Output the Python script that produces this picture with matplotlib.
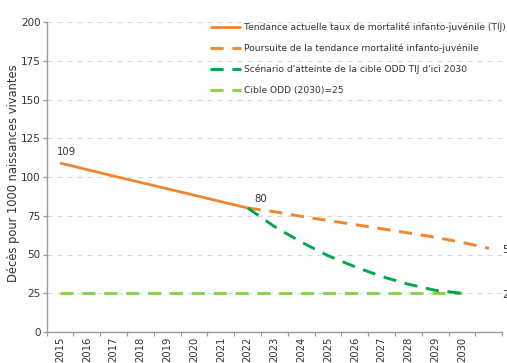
import matplotlib
matplotlib.use("Agg")
import matplotlib.pyplot as plt
import numpy as np

plt.rcParams['font.family'] = ['DejaVu Sans']

# Under-five mortality (deaths per 1000 live births)
years_trend = [2015, 2016, 2017, 2018, 2019, 2020, 2021, 2022]
trend = [109, 104.8, 100.6, 96.5, 92.4, 88.3, 84.1, 80]

years_proj = [2022, 2023, 2024, 2025, 2026, 2027, 2028, 2029, 2030, 2031]
projection = [80, 77.6, 74.6, 71.9, 69.3, 66.6, 63.9, 61.1, 57.8, 54]

years_sdg = [2022, 2023, 2024, 2025, 2026, 2027, 2028, 2029, 2030]
sdg_scenario = [80, 68, 58, 49.2, 42.1, 35.8, 30.8, 26.9, 25]

years_target = list(range(2015, 2031))
target_value = 25
target = [target_value] * len(years_target)

tick_years = list(range(2015, 2031))
y_ticks = [0, 25, 50, 75, 100, 125, 150, 175, 200]

series_labels = [
    "Tendance actuelle taux de mortalité infanto-juvénile (TIJ)",
    "Poursuite de la tendance mortalité infanto-juvénile",
    "Scénario d'atteinte de la cible ODD TIJ d'ici 2030",
    "Cible ODD (2030)=25",
]
y_title = "Décès pour 1000 naissances vivantes"

ORANGE = "#F28530"
GREEN = "#00A651"
LIGHT_GREEN = "#8DD14B"
TEXT = "#333333"
AXIS = "#9a9a9a"

W, H = 507, 363
fig = plt.figure(figsize=(W / 100, H / 100), dpi=100)
fig.patch.set_facecolor("white")
left, right, bottom, top = 46.7, 502.3, 332, 22
ax = fig.add_axes([left / W, 1 - bottom / H, (right - left) / W, (bottom - top) / H])

dash = (0, (4.5, 3))
ax.plot(years_target, target, color=LIGHT_GREEN, lw=2.1, linestyle=dash,
        label=series_labels[3], zorder=3)
ax.plot(years_proj, projection, color=ORANGE, lw=2.1, linestyle=dash,
        label=series_labels[1], zorder=3)
ax.plot(years_trend, trend, color=ORANGE, lw=2.0, solid_capstyle="butt",
        label=series_labels[0], zorder=4)
ax.plot(years_sdg, sdg_scenario, color=GREEN, lw=2.1, linestyle=dash,
        label=series_labels[2], zorder=5)

# value labels
ax.annotate(f"{trend[0]:g}", (years_trend[0], trend[0]), xytext=(-2.5, 4.0),
            textcoords="offset points", ha="left", va="bottom", fontsize=7.3, color=TEXT)
ax.annotate(f"{trend[-1]:g}", (years_trend[-1], trend[-1]), xytext=(4.5, 3.0),
            textcoords="offset points", ha="left", va="bottom", fontsize=7.3, color=TEXT)
ax.annotate(f"{projection[-1]:g}", (years_proj[-1], projection[-1]), xytext=(9.5, -1.5),
            textcoords="offset points", ha="left", va="center", fontsize=7.3, color=TEXT,
            annotation_clip=False)
ax.annotate(f"{target_value:g}", (years_proj[-1], target_value), xytext=(9.5, -1.5),
            textcoords="offset points", ha="left", va="center", fontsize=7.3, color=TEXT,
            annotation_clip=False)

ax.set_xlim(2014.5, 2031.5)
ax.set_ylim(0, 200)

ax.set_xticks(tick_years)
ax.set_xticklabels([str(y) for y in tick_years], rotation=90, fontsize=7.2, color=TEXT)
ax.set_xticks(np.arange(2014.5, 2032, 1.0), minor=True)
ax.tick_params(axis="x", which="major", length=0, pad=3.5)
ax.tick_params(axis="x", which="minor", length=2.6, width=0.9, color=AXIS)

ax.set_yticks(y_ticks)
ax.set_yticklabels([str(v) for v in y_ticks], fontsize=7.5, color=TEXT)
ax.tick_params(axis="y", length=3, width=0.9, color=AXIS, pad=1.5)

ax.grid(axis="y", color="#d8d8d8", lw=0.8, linestyle=(0, (4.5, 4.5)))
ax.set_axisbelow(True)
for s in ["top", "right"]:
    ax.spines[s].set_visible(False)
for s in ["left", "bottom"]:
    ax.spines[s].set_color(AXIS)
    ax.spines[s].set_linewidth(1.0)

fig.text(14 / W, 1 - 173 / H, y_title, rotation=90, ha="center", va="center",
         fontsize=8.3, color=TEXT)

handles, labels = ax.get_legend_handles_labels()
order = [2, 1, 3, 0]
leg = ax.legend([handles[i] for i in order], [labels[i] for i in order],
                loc="upper left", bbox_to_anchor=(210 / W, 1 - 22.5 / H),
                bbox_transform=fig.transFigure, frameon=False, fontsize=6.6,
                handlelength=3.4, handletextpad=0.33, labelspacing=1.27,
                borderpad=0, borderaxespad=0)
for t in leg.get_texts():
    t.set_color(TEXT)

fig.savefig("out.png", dpi=100)
